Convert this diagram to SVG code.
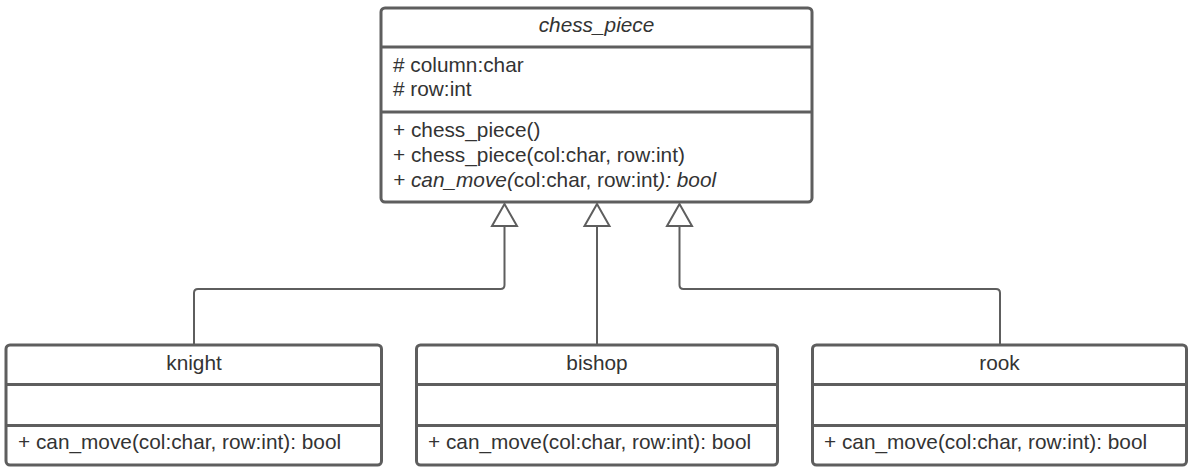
<svg xmlns="http://www.w3.org/2000/svg" width="1194" height="471" viewBox="0 0 1194 471">
<style>
.box{fill:#fff;stroke:#5e5e5e;stroke-width:3}
.div{stroke:#5e5e5e;stroke-width:3}
.t{font-family:"Liberation Sans",Arial,sans-serif;font-size:20.8px;fill:#333}
.c{text-anchor:middle}
.i{font-style:italic}
.conn{fill:none;stroke:#5e5e5e;stroke-width:2}
.tri{fill:#fff;stroke:#5e5e5e;stroke-width:2}
</style>
<rect width="1194" height="471" fill="#fff"/>
<g id="connectors">
<path class="conn" d="M194,345 V293 Q194,289 198,289 H500.5 Q504.5,289 504.5,285 V226"/>
<polygon class="tri" points="504.5,204 492,226 517,226"/>
<path class="conn" d="M597,345 V226"/>
<polygon class="tri" points="597,204 584.5,226 609.5,226"/>
<path class="conn" d="M1000,345 V293 Q1000,289 996,289 H683.5 Q679.5,289 679.5,285 V226"/>
<polygon class="tri" points="679.5,204 667,226 692,226"/>
</g>
<g id="chess_piece">
<rect class="box" x="381" y="8" width="431" height="194" rx="4"/>
<line class="div" x1="381" y1="47" x2="812" y2="47"/>
<line class="div" x1="381" y1="112" x2="812" y2="112"/>
<text class="t c i" x="596.5" y="32">chess_piece</text>
<text class="t" x="393" y="72"># column:char</text>
<text class="t" x="393" y="96"># row:int</text>
<text class="t" x="393" y="137">+ chess_piece()</text>
<text class="t" x="393" y="162">+ chess_piece(col:char, row:int)</text>
<text class="t" x="393" y="187"><tspan class="i">+ can_move(</tspan>col:char, row:int<tspan class="i">): bool</tspan></text>
</g>
<g id="knight">
<rect class="box" x="6" y="345" width="375.5" height="120" rx="4"/>
<line class="div" x1="6" y1="384.5" x2="381.5" y2="384.5"/>
<line class="div" x1="6" y1="425.5" x2="381.5" y2="425.5"/>
<text class="t c" x="194" y="370">knight</text>
<text class="t" x="18" y="449">+ can_move(col:char, row:int): bool</text>
</g>
<g id="bishop">
<rect class="box" x="416.5" y="345" width="361" height="120" rx="4"/>
<line class="div" x1="416.5" y1="384.5" x2="777.5" y2="384.5"/>
<line class="div" x1="416.5" y1="425.5" x2="777.5" y2="425.5"/>
<text class="t c" x="597" y="370">bishop</text>
<text class="t" x="428" y="449">+ can_move(col:char, row:int): bool</text>
</g>
<g id="rook">
<rect class="box" x="812.5" y="345" width="374" height="120" rx="4"/>
<line class="div" x1="812.5" y1="384.5" x2="1186.5" y2="384.5"/>
<line class="div" x1="812.5" y1="425.5" x2="1186.5" y2="425.5"/>
<text class="t c" x="999.5" y="370">rook</text>
<text class="t" x="824" y="449">+ can_move(col:char, row:int): bool</text>
</g>
</svg>
